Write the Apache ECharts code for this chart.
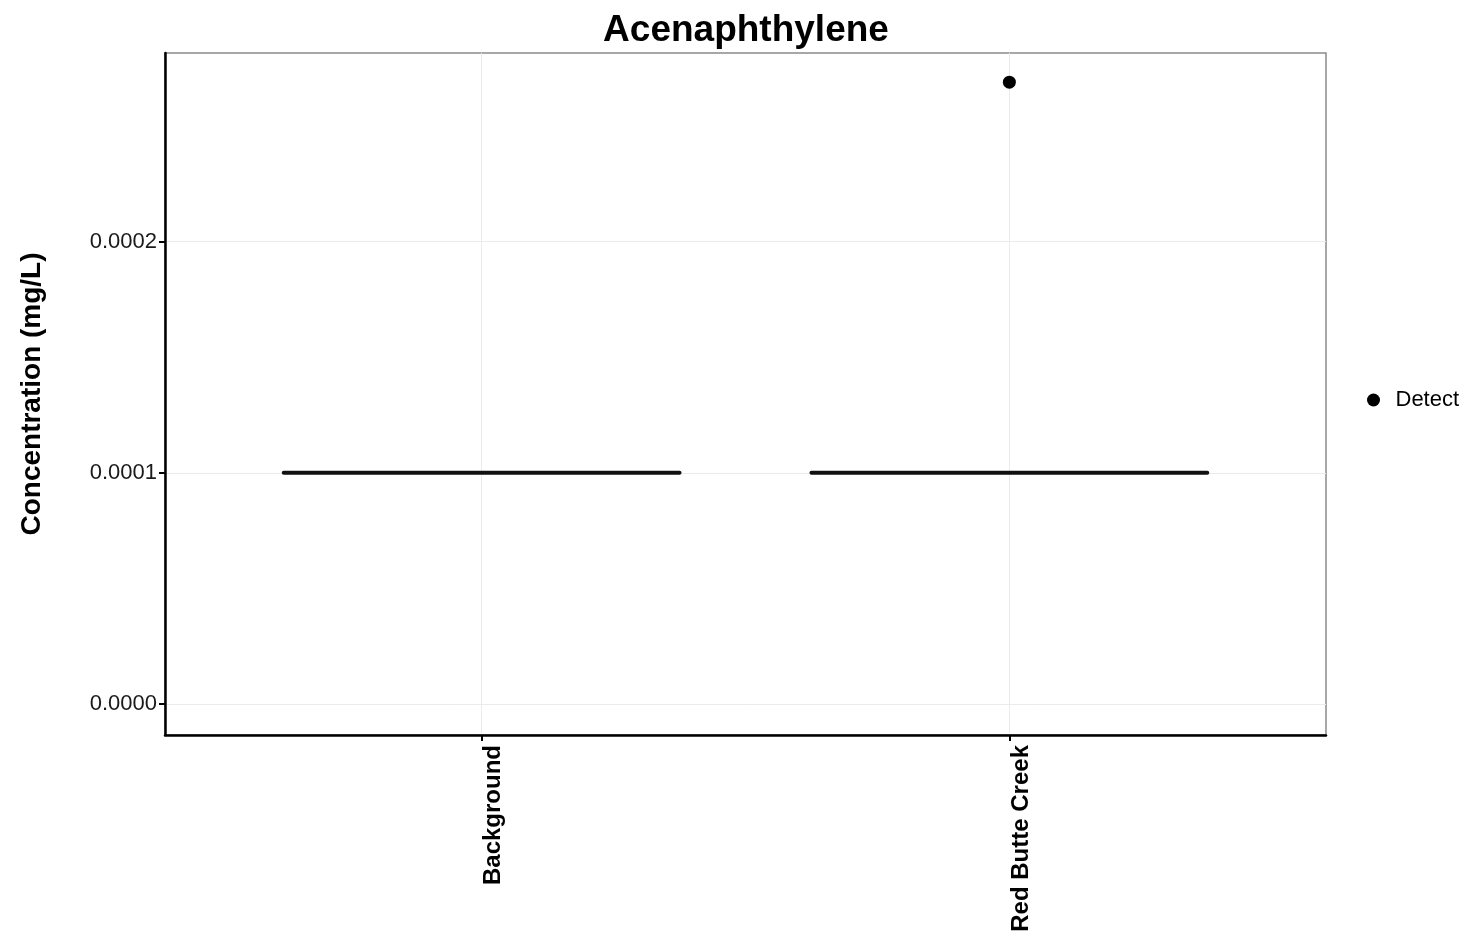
<!DOCTYPE html>
<html><head><meta charset="utf-8">
<script src="https://cdn.jsdelivr.net/npm/echarts@6/dist/echarts.min.js"></script>
<style>html,body{margin:0;padding:0;background:#fff}#c{width:1472px;height:939px}</style>
</head><body><div id="c"></div>
<script>
var categories = ['Background', 'Red Butte Creek'];
// box stats: [min, q1, median, q3, max]
var boxMin = [0.0001, 0.0001];
var boxQ1 = [0.0001, 0.0001];
var boxMedian = [0.0001, 0.0001];
var boxQ3 = [0.0001, 0.0001];
var boxMax = [0.0001, 0.0001];
var detectCategory = ['Red Butte Creek'];
var detectValues = [0.000269];
var yTicks = [0, 0.0001, 0.0002];

var boxData = categories.map(function (c, i) {
  return [i + 1, boxMin[i], boxQ1[i], boxMedian[i], boxQ3[i], boxMax[i]];
});
var detectData = detectValues.map(function (v, i) {
  return [categories.indexOf(detectCategory[i]) + 1, v];
});

var chart = echarts.init(document.getElementById('c'));
var FONT = '"Liberation Sans", Arial, sans-serif';
chart.setOption({
  animation: false,
  backgroundColor: '#fff',
  title: {
    text: 'Acenaphthylene', left: 741, top: 7, textAlign: 'center',
    textStyle: { fontFamily: FONT, fontSize: 37, fontWeight: 'bold', color: '#000' }
  },
  legend: {
    left: 1362, top: 384, orient: 'vertical', itemWidth: 14, itemHeight: 13,
    data: [{ name: 'Detect', icon: 'circle', itemStyle: { color: '#000', opacity: 1 } }],
    textStyle: { fontFamily: FONT, fontSize: 22, color: '#000', padding: [0, 0, 0, 10] }
  },
  grid: {
    left: 165, right: 146, top: 53, bottom: 204,
    show: true, borderColor: '#8a8a8a', borderWidth: 1.5, backgroundColor: '#fff'
  },
  xAxis: {
    type: 'value', min: 0.4, max: 2.6,
    axisLine: { show: true, onZero: false, lineStyle: { color: '#000', width: 2.5 } },
    axisTick: { show: true, length: 6, customValues: [1, 2], lineStyle: { color: '#000', width: 2 } },
    axisLabel: {
      customValues: [1, 2], rotate: 90, margin: 10, verticalAlign: 'top',
      fontFamily: FONT, fontSize: 24, fontWeight: 'bold', color: '#000',
      formatter: function (v) { return categories[Math.round(v) - 1] || ''; }
    },
    splitLine: { show: true, lineStyle: { color: '#ebebeb', width: 1 } }
  },
  yAxis: {
    type: 'value', min: -0.0000134, max: 0.0002816,
    name: 'Concentration (mg/L)', nameLocation: 'middle', nameGap: 119, nameRotate: 90,
    nameTextStyle: { fontFamily: FONT, fontSize: 28, fontWeight: 'bold', color: '#000' },
    axisLine: { show: true, onZero: false, lineStyle: { color: '#000', width: 2.5 } },
    axisTick: { show: true, length: 6, customValues: yTicks, lineStyle: { color: '#000', width: 2 } },
    axisLabel: {
      customValues: yTicks, margin: 8,
      fontFamily: FONT, fontSize: 22, color: '#1a1a1a',
      formatter: function (v) { return v.toFixed(4); }
    },
    splitLine: { show: true, lineStyle: { color: '#ebebeb', width: 1 } }
  },
  series: [
    {
      type: 'custom', name: 'box', data: boxData, z: 3,
      encode: { x: 0, y: [1, 2, 3, 4, 5] },
      renderItem: function (params, api) {
        var x = api.value(0);
        var half = api.size([0.75, 0])[0] / 2;
        var pMin = api.coord([x, api.value(1)]);
        var pQ1 = api.coord([x, api.value(2)]);
        var pMed = api.coord([x, api.value(3)]);
        var pQ3 = api.coord([x, api.value(4)]);
        var pMax = api.coord([x, api.value(5)]);
        var st = { stroke: '#111', lineWidth: 1.5, fill: 'none' };
        return {
          type: 'group',
          children: [
            { type: 'line', shape: { x1: pMin[0], y1: pMin[1], x2: pQ1[0], y2: pQ1[1] }, style: st },
            { type: 'line', shape: { x1: pQ3[0], y1: pQ3[1], x2: pMax[0], y2: pMax[1] }, style: st },
            { type: 'rect', shape: { x: pQ3[0] - half, y: pQ3[1], width: half * 2, height: pQ1[1] - pQ3[1] }, style: { stroke: '#111', lineWidth: 1.5, fill: '#fff' } },
            { type: 'line', shape: { x1: pMed[0] - half, y1: pMed[1], x2: pMed[0] + half, y2: pMed[1] }, style: { stroke: '#111', lineWidth: 4, lineCap: 'round' } }
          ]
        };
      }
    },
    {
      type: 'scatter', name: 'Detect', data: detectData, symbol: 'circle', symbolSize: 13, z: 4,
      itemStyle: { color: '#000', opacity: 1 }
    }
  ]
});
</script></body></html>
